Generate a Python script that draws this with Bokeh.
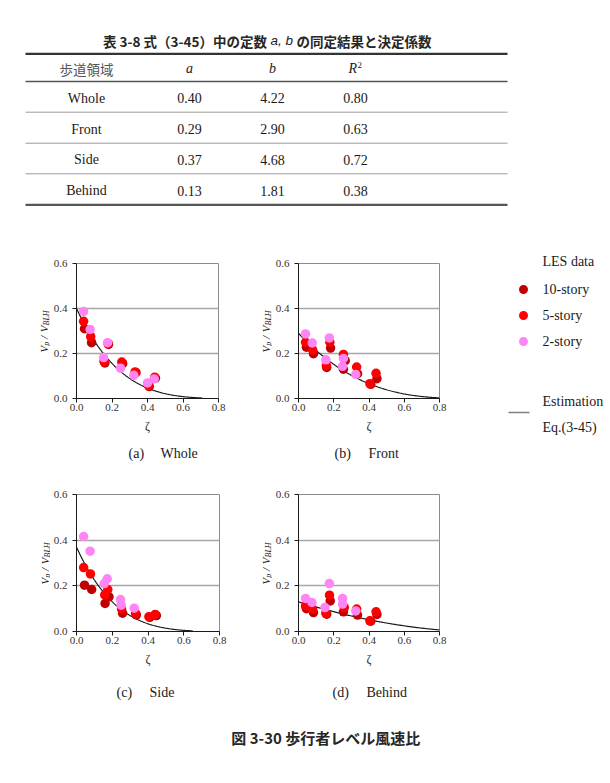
import numpy as np
from bokeh.plotting import figure
from bokeh.layouts import column, row
from bokeh.models import Range1d, NumeralTickFormatter
from bokeh.core.properties import value
from bokeh.embed import file_html
from bokeh.resources import INLINE

# ---------------- 表 3-8: 式(3-45) の定数 ----------------
regions = ["Whole", "Front", "Side", "Behind"]
coef_a = [0.40, 0.29, 0.37, 0.13]
coef_b = [4.22, 2.90, 4.68, 1.81]
coef_r2 = [0.80, 0.63, 0.72, 0.38]
panel_tags = ["(a)", "(b)", "(c)", "(d)"]
curve_end = [0.71, 0.80, 0.65, 0.80]

story_labels = ["10-story", "5-story", "2-story"]
story_colors = ["#C00000", "#FF0000", "#FF85F5"]

# ---------------- LES data (zeta, Vp/VBLH) ----------------
whole_zeta_10 = [0.045, 0.085, 0.160, 0.180, 0.260, 0.335, 0.410, 0.445]
whole_vr_10 = [0.310, 0.248, 0.158, 0.240, 0.155, 0.115, 0.053, 0.091]
whole_zeta_5 = [0.040, 0.080, 0.155, 0.178, 0.255, 0.330, 0.405, 0.440]
whole_vr_5 = [0.343, 0.275, 0.165, 0.245, 0.162, 0.118, 0.058, 0.094]
whole_zeta_2 = [0.040, 0.077, 0.153, 0.175, 0.248, 0.323, 0.400, 0.438]
whole_vr_2 = [0.387, 0.307, 0.182, 0.248, 0.135, 0.103, 0.069, 0.087]

front_zeta_10 = [0.045, 0.085, 0.160, 0.182, 0.255, 0.265, 0.335, 0.410, 0.445]
front_vr_10 = [0.228, 0.199, 0.138, 0.224, 0.130, 0.168, 0.110, 0.063, 0.088]
front_zeta_5 = [0.040, 0.080, 0.158, 0.178, 0.255, 0.330, 0.405, 0.440]
front_vr_5 = [0.250, 0.216, 0.146, 0.250, 0.196, 0.140, 0.066, 0.112]
front_zeta_2 = [0.040, 0.078, 0.155, 0.175, 0.250, 0.255, 0.325]
front_vr_2 = [0.287, 0.247, 0.172, 0.269, 0.143, 0.178, 0.107]

side_zeta_10 = [0.045, 0.085, 0.160, 0.182, 0.258, 0.335, 0.410, 0.447]
side_vr_10 = [0.203, 0.184, 0.123, 0.152, 0.080, 0.073, 0.062, 0.070]
side_zeta_5 = [0.040, 0.078, 0.158, 0.175, 0.252, 0.330, 0.405, 0.440]
side_vr_5 = [0.280, 0.252, 0.160, 0.184, 0.098, 0.078, 0.065, 0.075]
side_zeta_2 = [0.040, 0.076, 0.155, 0.172, 0.246, 0.250, 0.323]
side_vr_2 = [0.416, 0.352, 0.210, 0.231, 0.140, 0.115, 0.102]

behind_zeta_10 = [0.045, 0.085, 0.160, 0.180, 0.255, 0.335, 0.410, 0.445]
behind_vr_10 = [0.100, 0.083, 0.076, 0.134, 0.086, 0.072, 0.045, 0.075]
behind_zeta_5 = [0.040, 0.080, 0.155, 0.176, 0.260, 0.330, 0.405, 0.440]
behind_vr_5 = [0.112, 0.098, 0.080, 0.159, 0.105, 0.098, 0.047, 0.086]
behind_zeta_2 = [0.040, 0.076, 0.150, 0.175, 0.250, 0.250, 0.325]
behind_vr_2 = [0.145, 0.127, 0.105, 0.210, 0.145, 0.120, 0.090]

x_ticks = [0.0, 0.2, 0.4, 0.6, 0.8]
y_ticks = [0.0, 0.2, 0.4, 0.6]

panel_series = [
    [(whole_zeta_10, whole_vr_10), (whole_zeta_5, whole_vr_5), (whole_zeta_2, whole_vr_2)],
    [(front_zeta_10, front_vr_10), (front_zeta_5, front_vr_5), (front_zeta_2, front_vr_2)],
    [(side_zeta_10, side_vr_10), (side_zeta_5, side_vr_5), (side_zeta_2, side_vr_2)],
    [(behind_zeta_10, behind_vr_10), (behind_zeta_5, behind_vr_5), (behind_zeta_2, behind_vr_2)],
]

SERIF = "Liberation Serif"
CJK = "Noto Sans CJK JP"
TXT = "#1a1a1a"
X_MAX, Y_MAX = 0.8, 0.6


def blank_canvas(w, h, x0, x1, y_top, y_bot, top=0, bottom=0):
    """Axis-less canvas whose frame spans page pixels x0..x1 / y_top..y_bot."""
    p = figure(width=w, height=h, x_range=Range1d(x0, x1), y_range=Range1d(y_bot, y_top),
               x_axis_type=None, y_axis_type=None, output_backend="svg",
               toolbar_location=None, min_border=0,
               min_border_top=top, min_border_bottom=bottom)
    p.outline_line_color = None
    return p


def make_panel(i, w, h, left, right, top, bottom):
    p = figure(width=w, height=h, x_range=Range1d(0, X_MAX), y_range=Range1d(0, Y_MAX),
               output_backend="svg", toolbar_location=None,
               min_border_left=left, min_border_right=right,
               min_border_top=top, min_border_bottom=bottom)
    p.outline_line_color = "#8C8C8C"
    p.outline_line_width = 1

    for ax in (p.xaxis[0], p.yaxis[0]):
        ax.axis_line_color = "#1a1a1a"
        ax.major_tick_line_color = "#1a1a1a"
        ax.major_tick_out = 4
        ax.major_tick_in = 0
        ax.minor_tick_line_color = None
        ax.major_label_text_font = SERIF
        ax.major_label_text_font_size = "11px"
        ax.major_label_text_color = "#333333"
        ax.formatter = NumeralTickFormatter(format="0.0")
    p.xaxis.ticker = x_ticks
    p.yaxis.ticker = y_ticks
    p.xaxis.major_label_standoff = 1
    p.yaxis.major_label_standoff = 5
    p.xaxis.axis_label = "ζ"
    p.xaxis.axis_label_text_font = SERIF
    p.xaxis.axis_label_text_font_style = "normal"
    p.xaxis.axis_label_text_font_size = "12px"
    p.xaxis.axis_label_text_color = "#333333"
    p.xaxis.axis_label_standoff = 5

    p.xgrid.visible = False
    p.ygrid.ticker = [0.2, 0.4]
    p.ygrid.grid_line_color = "#A6A6A6"
    p.ygrid.grid_line_width = 1.3

    # estimation curve, Eq.(3-45): Vp/VBLH = a (1 - zeta)^b
    zc = np.linspace(0.0, curve_end[i], 150)
    p.line(zc, coef_a[i] * (1.0 - zc) ** coef_b[i], line_color="#1a1a1a", line_width=1.2)

    for (zs, vs), col in zip(panel_series[i], story_colors):
        p.scatter(zs, vs, size=9.5, fill_color=col, line_color=None)
    return p


def y_title(w, h, x0, x1, frame_top, frame_bot, top, bottom, base_x):
    """Rotated axis title  V_p / V_BLH  drawn in its own narrow strip."""
    p = blank_canvas(w, h, x0, x1, frame_top, frame_bot, top=top, bottom=bottom)
    cy = (frame_top + frame_bot) / 2
    start = cy + 21.5
    pieces = [("V", 0.0, "11px", 0.0), ("p", 6.7, "8px", 2.5), ("/", 13.6, "11px", 0.0),
              ("V", 20.3, "11px", 0.0), ("BLH", 27.0, "8px", 2.5)]
    for txt, off, fs, shift in pieces:
        p.text(x=[base_x + shift], y=[start - off], text=[txt], angle=np.pi / 2,
               text_font=value(SERIF), text_font_style="italic", text_font_size=value(fs),
               text_color=TXT, text_align="left", text_baseline="alphabetic")
    return p


def caption_strip(y_top, y_bot, items, cy):
    p = blank_canvas(455, y_bot - y_top, 0, 455, y_top, y_bot)
    for tag_x, name_x, tag, name in items:
        p.text(x=[tag_x, name_x], y=[cy, cy], text=[tag, name], text_font=value(SERIF),
               text_font_size=value("14px"), text_color=TXT, text_align="left",
               text_baseline="middle")
    return p


# ---------------- table ----------------
tbl = blank_canvas(610, 240, 0, 610, 0, 240)
title_y = 40
tbl.text(x=[266.5], y=[title_y], text=["表 3-8 式（3-45）中の定数"], text_font=value(CJK),
         text_font_style="bold", text_font_size=value("13.5px"), text_align="right",
         text_baseline="middle", text_color="#262626")
tbl.text(x=[270], y=[title_y], text=["a, b"], text_font=value("Liberation Sans"),
         text_font_style="italic", text_font_size=value("13.5px"), text_align="left",
         text_baseline="middle", text_color=TXT)
tbl.text(x=[296], y=[title_y], text=["の同定結果と決定係数"], text_font=value(CJK),
         text_font_style="bold", text_font_size=value("13.5px"), text_align="left",
         text_baseline="middle", text_color="#262626")

rule_y = [53.3, 81.0, 111.7, 142.7, 173.3, 204.3]
rule_w = [2.2, 1.4, 1.0, 1.0, 1.0, 2.2]
rule_c = ["#333333", "#555555", "#9A9A9A", "#9A9A9A", "#9A9A9A", "#555555"]
tbl.segment(x0=[25] * 6, x1=[507] * 6, y0=rule_y, y1=rule_y, line_width=rule_w, line_color=rule_c)

col_x = [86, 189, 272, 355]
head_y = 68
tbl.text(x=[col_x[0]], y=[head_y], text=["歩道領域"], text_font=value(CJK), text_font_size=value("13.5px"),
         text_align="center", text_baseline="middle", text_color="#555555")
tbl.text(x=col_x[1:3], y=[head_y, head_y], text=["a", "b"], text_font=value(SERIF),
         text_font_style="italic", text_font_size=value("14px"), text_align="center",
         text_baseline="middle", text_color=TXT)
tbl.text(x=[col_x[3] + 1.5], y=[head_y], text=["R"], text_font=value(SERIF), text_font_style="italic",
         text_font_size=value("14px"), text_align="right", text_baseline="middle", text_color=TXT)
tbl.text(x=[col_x[3] + 2], y=[head_y - 4], text=["2"], text_font=value(SERIF),
         text_font_size=value("9px"), text_align="left", text_baseline="middle", text_color=TXT)

row_y = [97.7 + 30.8 * k for k in range(len(regions))]
for cx, vals in zip(col_x, [regions,
                            [f"{v:.2f}" for v in coef_a],
                            [f"{v:.2f}" for v in coef_b],
                            [f"{v:.2f}" for v in coef_r2]]):
    tbl.text(x=[cx] * len(vals), y=row_y, text=vals, text_font=value(SERIF),
             text_font_size=value("14px"), text_align="center", text_baseline="middle", text_color=TXT)

# ---------------- panels ----------------
# upper row: page y 240..440, plot frames at 263..398
pa = make_panel(0, 180, 200, 25, 12, 23, 42)
pb = make_panel(1, 183, 200, 25, 16, 23, 42)
ya = y_title(50, 200, 0, 50, 263, 398, 23, 42, 43.5)
yb = y_title(42, 200, 230, 272, 263, 398, 23, 42, 265.5)
cap1 = caption_strip(440, 470, [(128, 160, panel_tags[0], regions[0]),
                                (334, 368, panel_tags[1], regions[1])], 453)

# lower row: page y 470..675, plot frames at 494..631
pc = make_panel(2, 180, 205, 26, 11, 24, 44)
pd = make_panel(3, 183, 205, 25, 16, 24, 44)
yc = y_title(50, 205, 0, 50, 494, 631, 24, 44, 44.0)
yd = y_title(42, 205, 230, 272, 494, 631, 24, 44, 265.5)
cap2 = caption_strip(675, 705, [(116, 149, panel_tags[2], regions[2]),
                                (332, 366, panel_tags[3], regions[3])], 692)

# ---------------- legend ----------------
leg = blank_canvas(155, 465, 455, 610, 240, 705)
leg.text(x=[542], y=[261], text=["LES data"], text_font=value(SERIF), text_font_size=value("14px"),
         text_align="left", text_baseline="middle", text_color=TXT)
leg_rows = [289, 315, 341]
leg.scatter(x=[523] * 3, y=leg_rows, size=9, fill_color=story_colors, line_color=None)
leg.text(x=[542] * 3, y=leg_rows, text=story_labels, text_font=value(SERIF), text_font_size=value("14px"),
         text_align="left", text_baseline="middle", text_color=TXT)
leg.segment(x0=[508], y0=[412], x1=[529], y1=[412], line_color="#808080", line_width=1.5)
leg.text(x=[542, 542], y=[401, 427], text=["Estimation", "Eq.(3-45)"], text_font=value(SERIF),
         text_font_size=value("14px"), text_align="left", text_baseline="middle", text_color=TXT)

# ---------------- figure caption ----------------
cap = blank_canvas(610, 78, 0, 610, 705, 783)
cap.text(x=[327], y=[737], text=["図 3-30  歩行者レベル風速比"], text_font=value(CJK),
         text_font_style="bold", text_font_size=value("15px"), text_align="center",
         text_baseline="middle", text_color="#262626")

left_block = column(row(ya, pa, yb, pb), cap1, row(yc, pc, yd, pd), cap2)
page = column(tbl, row(left_block, leg), cap)

open("out.html", "w").write(file_html(page, INLINE))
